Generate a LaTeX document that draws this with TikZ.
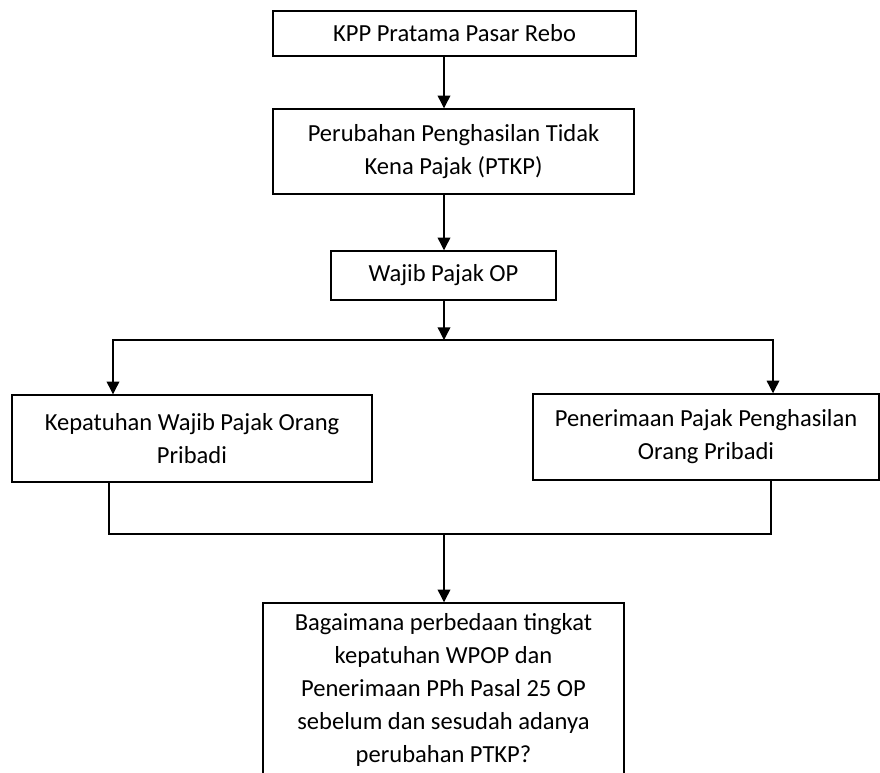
\documentclass[tikz,border=0pt]{standalone}
\usepackage{fontspec}
\setmainfont{Carlito}
\usetikzlibrary{arrows.meta}

\begin{document}
\begin{tikzpicture}[x=0.75pt,y=-0.75pt,inner sep=1pt,
  kotak/.style={draw=black,line width=1.1pt,align=center,font=\fontsize{18.4}{24.75}\selectfont},
  panah/.style={-{Triangle[length=9.5pt,width=9.5pt]},line width=1pt},
  garis/.style={line width=1pt}]
\clip (0,0) rectangle (880,772);
\node[kotak,minimum width=272.25pt,minimum height=33.75pt] (kpp) at (454.5,33.5) {KPP Pratama Pasar Rebo};
\node[kotak,minimum width=270.75pt,minimum height=63.75pt] (ptkp) at (453.5,151.5) {Perubahan Penghasilan Tidak\\Kena Pajak (PTKP)};
\node[kotak,minimum width=168.75pt,minimum height=36.75pt] (wpop) at (443.5,275.5) {Wajib Pajak OP};
\node[kotak,minimum width=270pt,minimum height=65.25pt] (kepatuhan) at (192,438.5) {Kepatuhan Wajib Pajak Orang\\Pribadi};
\node[kotak,minimum width=259.5pt,minimum height=64.5pt] (penerimaan) at (706,437) {Penerimaan Pajak Penghasilan\\Orang Pribadi};
\node[kotak,minimum width=270.75pt,minimum height=130.5pt] (tanya) at (443.5,690) {Bagaimana perbedaan tingkat\\kepatuhan WPOP dan\\Penerimaan PPh Pasal 25 OP\\sebelum dan sesudah adanya\\perubahan PTKP?};

\coordinate (tengah) at (444,0);
\coordinate (cabang) at (444,340);
\coordinate (kiri) at (113,340);
\coordinate (kanan) at (773,340);
\coordinate (gabungkiri) at (109,534);
\coordinate (gabungkanan) at (771,534);
\coordinate (gabung) at (444,534);

\path (kpp.south -| tengah) edge [panah] (ptkp.north -| tengah);
\path (ptkp.south -| tengah) edge [panah] (wpop.north -| tengah);
\path (wpop.south -| tengah) edge [panah] (cabang);
\draw[panah] (cabang) -- (kiri) -- (kiri |- kepatuhan.north);
\draw[panah] (cabang) -- (kanan) -- (kanan |- penerimaan.north);
\draw[garis] (gabungkiri |- kepatuhan.south) -- (gabungkiri) -- (gabungkanan) -- (gabungkanan |- penerimaan.south);
\path (gabung) edge [panah] (tanya.north -| gabung);
\end{tikzpicture}
\end{document}
